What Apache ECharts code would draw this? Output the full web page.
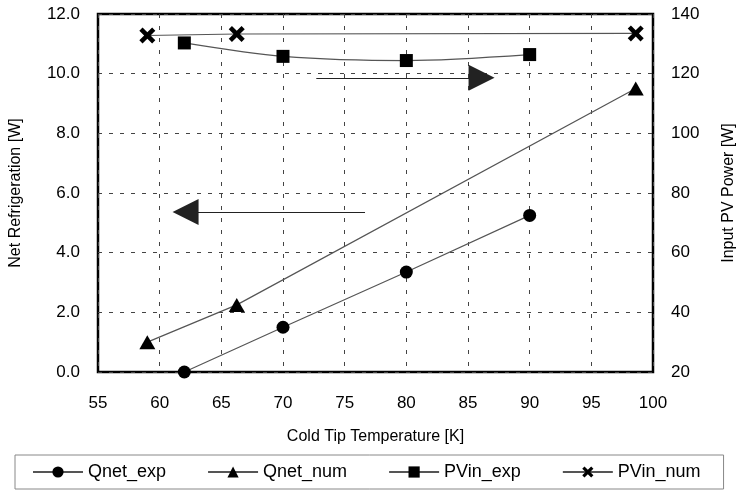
<!DOCTYPE html>
<html>
<head>
<meta charset="utf-8">
<script src="https://cdn.jsdelivr.net/npm/echarts@6/dist/echarts.min.js"></script>
<style>html,body{margin:0;padding:0;background:#fff}#c{width:738px;height:492px}</style>
</head>
<body>
<div id="c"></div>
<script>
// Data
var xTicks = [55, 60, 65, 70, 75, 80, 85, 90, 95, 100];
var leftTicks = [0, 2, 4, 6, 8, 10, 12];
var rightTicks = [20, 40, 60, 80, 100, 120, 140];

var tempExp = [62, 70, 80, 90];
var qnetExp = [0.0, 1.5, 3.35, 5.25];
var pvinExp = [130.3, 125.8, 124.4, 126.4];

var tempNum = [59, 66.25, 98.6];
var qnetNum = [1.0, 2.25, 9.5];
var pvinNum = [132.8, 133.3, 133.5];

// annotation arrows (data coordinates)
var leftArrow = { from: [76.65, 5.36], to: [62.1, 5.36] };     // left axis
var rightArrow = { from: [72.7, 118.6], to: [86.1, 118.6] };   // right axis

function pairs(xs, ys) { return xs.map(function (x, i) { return [x, ys[i]]; }); }

var FONT = 'Liberation Sans';
var xPath = 'path://M0,2 L2,0 L5,3 L8,0 L10,2 L7,5 L10,8 L8,10 L5,7 L2,10 L0,8 L3,5 Z';
var lineStyle = { color: '#555', width: 1.2 };
var nameStyle = { fontFamily: FONT, fontSize: 16, color: '#000' };
var tickStyle = { fontFamily: FONT, fontSize: 17, color: '#000' };

var chart = echarts.init(document.getElementById('c'));
chart.setOption({
  animation: false,
  backgroundColor: '#fff',
  textStyle: { fontFamily: FONT, color: '#000' },
  grid: { left: 98, right: 85, top: 14, bottom: 120, show: true, borderColor: '#000', borderWidth: 2.5, containLabel: false, outerBoundsMode: 'none' },
  legend: {
    left: 15, top: 455,
    padding: [8, 23, 8, 17],
    borderColor: '#888', borderWidth: 1,
    itemWidth: 50, itemHeight: 14, itemGap: 41,
    textStyle: { fontFamily: FONT, fontSize: 18, color: '#000' },
    data: ['Qnet_exp', 'Qnet_num', 'PVin_exp', 'PVin_num']
  },
  xAxis: {
    type: 'value', min: xTicks[0], max: xTicks[xTicks.length - 1], interval: 5,
    name: 'Cold Tip Temperature [K]', nameLocation: 'middle', nameGap: 57,
    nameTextStyle: nameStyle,
    axisLine: { show: false }, axisTick: { show: false },
    axisLabel: Object.assign({ margin: 23 }, tickStyle),
    splitLine: { show: true, lineStyle: { color: '#444', type: [4, 8], width: 1 } }
  },
  yAxis: [{
    type: 'value', position: 'left', min: leftTicks[0], max: leftTicks[leftTicks.length - 1], interval: 2,
    name: 'Net Refrigeration [W]', nameLocation: 'middle', nameGap: 74, nameRotate: 90,
    nameTextStyle: nameStyle,
    axisLine: { show: false }, axisTick: { show: false },
    axisLabel: Object.assign({ margin: 18, formatter: function (v) { return v.toFixed(1); } }, tickStyle),
    splitLine: { show: true, lineStyle: { color: '#444', type: [4, 7], width: 1 } }
  }, {
    type: 'value', position: 'right', min: rightTicks[0], max: rightTicks[rightTicks.length - 1], interval: 20,
    name: 'Input PV Power [W]', nameLocation: 'middle', nameGap: 68, nameRotate: 90,
    nameTextStyle: nameStyle,
    axisLine: { show: false }, axisTick: { show: false },
    axisLabel: Object.assign({ margin: 18 }, tickStyle),
    splitLine: { show: false }
  }],
  series: [{
    name: 'Qnet_exp', type: 'line', yAxisIndex: 0,
    data: pairs(tempExp, qnetExp),
    symbol: 'circle', symbolSize: 13, itemStyle: { color: '#000' }, lineStyle: lineStyle,
    markLine: {
      silent: true, symbol: ['none', 'triangle'], symbolSize: [26, 26],
      itemStyle: { color: '#000' },
      lineStyle: { color: '#222', width: 1, type: 'solid' }, label: { show: false },
      data: [[{ coord: leftArrow.from }, { coord: leftArrow.to }]]
    }
  }, {
    name: 'Qnet_num', type: 'line', yAxisIndex: 0,
    data: pairs(tempNum, qnetNum),
    symbol: 'triangle', symbolSize: [16, 14], itemStyle: { color: '#000' }, lineStyle: lineStyle
  }, {
    name: 'PVin_exp', type: 'line', yAxisIndex: 1, smooth: 0.3,
    data: pairs(tempExp, pvinExp),
    symbol: 'rect', symbolSize: 13, itemStyle: { color: '#000' }, lineStyle: lineStyle,
    markLine: {
      silent: true, symbol: ['none', 'triangle'], symbolSize: [26, 26],
      itemStyle: { color: '#000' },
      lineStyle: { color: '#222', width: 1, type: 'solid' }, label: { show: false },
      data: [[{ coord: rightArrow.from }, { coord: rightArrow.to }]]
    }
  }, {
    name: 'PVin_num', type: 'line', yAxisIndex: 1,
    data: pairs(tempNum, pvinNum),
    symbol: xPath, symbolSize: 16, itemStyle: { color: '#000' }, lineStyle: lineStyle
  }]
});
</script>
</body>
</html>
